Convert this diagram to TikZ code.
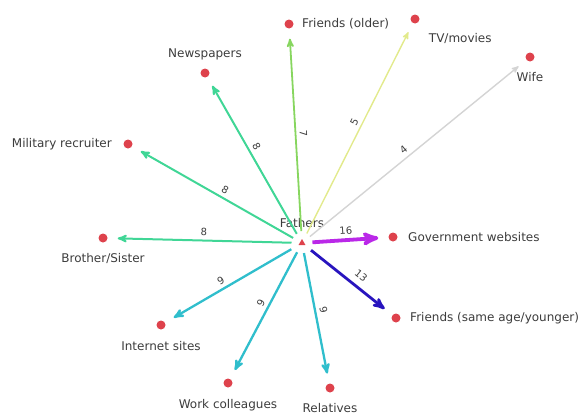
\documentclass[tikz,border=0pt]{standalone}
\usepackage{fontspec}
\setmainfont{DejaVu Sans}
\usepackage{tikz}
\usetikzlibrary{arrows}
\usetikzlibrary{shapes.geometric}

\definecolor{dotred}{RGB}{222,66,76}
\definecolor{txtgray}{RGB}{60,60,60}
\definecolor{green7}{RGB}{135,214,95}
\definecolor{yellow5}{RGB}{226,234,140}
\definecolor{gray4}{RGB}{212,212,212}
\definecolor{teal8}{RGB}{64,214,150}
\definecolor{cyan9}{RGB}{48,190,204}
\definecolor{blue13}{RGB}{40,20,190}
\definecolor{purple16}{RGB}{186,40,232}

\begin{document}
\begin{tikzpicture}[x=1pt,y=-1pt,
    every node/.style={font=\fontsize{12}{14}\selectfont,text=txtgray},
    every label/.style={font=\fontsize{12}{14}\selectfont,text=txtgray},
    target/.style={circle,fill=dotred,inner sep=0pt,minimum size=9pt},
    link/.style={->,>=stealth',shorten <=8pt,shorten >=10pt},
    wt/.style={font=\fontsize{10}{11}\selectfont,sloped,above,inner sep=3.5pt}]

  \useasboundingbox (0,0) rectangle (583,415);

  % centre
  \node [regular polygon,regular polygon sides=3,fill=dotred,inner sep=0pt,minimum size=8pt,
         label={[label distance=7pt]above:Fathers}] (fathers) at (302,243) {};

  % sources
  \node [target,label={[label distance=5pt]right:Friends (older)}] (older) at (289,24) {};
  \node [target,label={[label distance=10pt]below right:TV/movies}] (tv) at (415,19) {};
  \node [target,label={[label distance=7pt]below:Wife}] (wife) at (530,57) {};
  \node [target,label={[label distance=5pt]above:Newspapers}] (news) at (205,73) {};
  \node [target,label={[label distance=8pt]left:Military recruiter}] (military) at (128,144) {};
  \node [target,label={[label distance=7pt]below:Brother/Sister}] (sibling) at (103,238) {};
  \node [target,label={[label distance=7pt]right:Government websites}] (gov) at (393,237) {};
  \node [target,label={[label distance=6pt]right:Friends (same age/younger)}] (younger) at (396,318) {};
  \node [target,label={[label distance=8pt]below:Internet sites}] (internet) at (161,325) {};
  \node [target,label={[label distance=8pt]below:Work colleagues}] (work) at (228,383) {};
  \node [target,label={[label distance=7pt]below:Relatives}] (relatives) at (330,388) {};

  \path [link]
    (fathers) edge [draw=green7,line width=1.8pt] node [wt,pos=.5] {7} (older)
    (fathers) edge [draw=yellow5,line width=1.4pt] node [wt,pos=.53] {5} (tv)
    (fathers) edge [draw=gray4,line width=1.4pt] node [wt,pos=.47] {4} (wife)
    (fathers) edge [draw=teal8,line width=2pt] node [wt,pos=.55] {8} (news)
    (fathers) edge [draw=teal8,line width=2pt] node [wt,pos=.47] {8} (military)
    (fathers) edge [draw=teal8,line width=2pt] node [wt,pos=.5] {8} (sibling)
    (fathers) edge [draw=purple16,line width=3.8pt] node [wt,pos=.5] {16} (gov)
    (fathers) edge [draw=blue13,line width=2.8pt] node [wt,pos=.56,above=3pt] {13} (younger)
    (fathers) edge [draw=cyan9,line width=2.3pt] node [wt,pos=.55] {9} (internet)
    (fathers) edge [draw=cyan9,line width=2.3pt] node [wt,pos=.46] {9} (work)
    (fathers) edge [draw=cyan9,line width=2.3pt] node [wt,pos=.48] {9} (relatives);

\end{tikzpicture}
\end{document}
